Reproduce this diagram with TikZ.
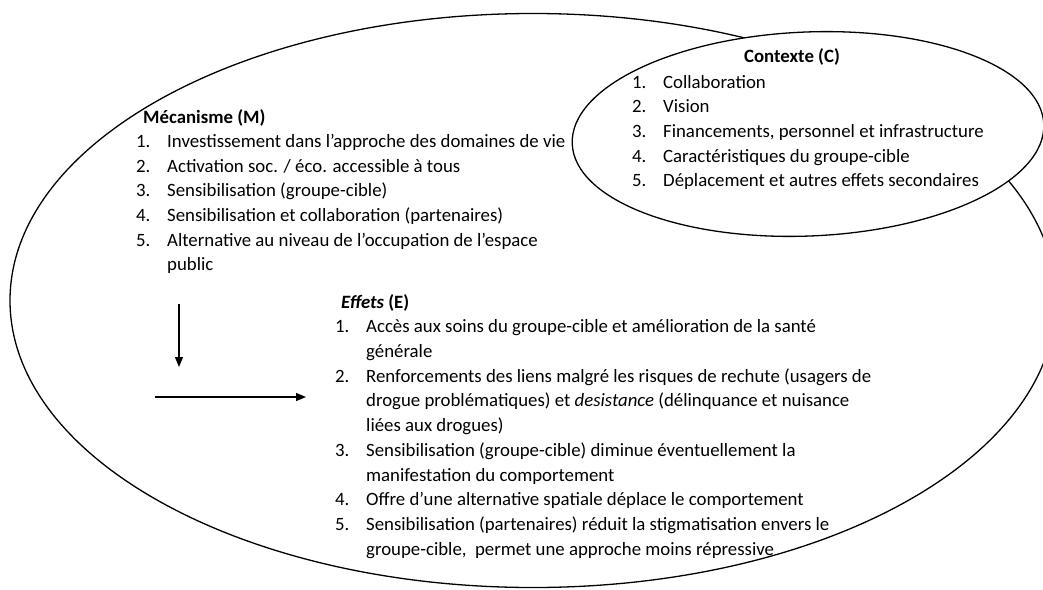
\documentclass[tikz,border=0pt]{standalone}
\usepackage{fontspec}
\setmainfont{Carlito}
\usetikzlibrary{arrows.meta, shapes.geometric}

\newcommand{\itm}[1]{\makebox[31pt][l]{#1}}

\begin{document}
\begin{tikzpicture}[x=1pt, y=-1pt,
    frame/.style={
        ellipse,
        draw=black,
        line width=1.3pt,
        inner sep=0pt
    },
    listtext/.style={
        anchor=north west,
        inner sep=0pt,
        align=left,
        font=\fontsize{18.8}{24.6}\selectfont
    },
    arrow/.style={
        -{Triangle[length=10pt,width=8pt]},
        line width=1.3pt
    }
]
\useasboundingbox (0,0) rectangle (1043,589);

\node[frame, minimum width=1046pt, minimum height=574pt] (whole) at (533,300.5) {};
\node[frame, fill=white, minimum width=472pt, minimum height=204pt, rotate=2.4] (context) at (808,134) {};

\node[listtext] (mech) at (136,109) {
    \hspace*{7pt}\textbf{Mécanisme (M)}\\
    \itm{1.}Investissement dans l’approche des domaines de vie\\
    \itm{2.}Activation soc. / éco. accessible à tous\\
    \itm{3.}Sensibilisation (groupe-cible)\\
    \itm{4.}Sensibilisation et collaboration (partenaires)\\
    \itm{5.}Alternative au niveau de l’occupation de l’espace\\
    \itm{}public
};

\node[listtext, anchor=base] (ctxtitle) at (792,62) {\textbf{Contexte (C)}};
\node[listtext] (ctxlist) at (632,75) {
    \itm{1.}Collaboration\\
    \itm{2.}Vision\\
    \itm{3.}Financements, personnel et infrastructure\\
    \itm{4.}Caractéristiques du groupe-cible\\
    \itm{5.}Déplacement et autres effets secondaires
};

\node[listtext, font=\fontsize{18.8}{24.7}\selectfont] (effects) at (335,294) {
    \hspace*{6pt}\textbf{\textit{Effets} (E)}\\
    \itm{1.}Accès aux soins du groupe-cible et amélioration de la santé\\
    \itm{}générale\\
    \itm{2.}Renforcements des liens malgré les risques de rechute (usagers de\\
    \itm{}drogue problématiques) et \textit{desistance} (délinquance et nuisance\\
    \itm{}liées aux drogues)\\
    \itm{3.}Sensibilisation (groupe-cible) diminue éventuellement la\\
    \itm{}manifestation du comportement\\
    \itm{4.}Offre d’une alternative spatiale déplace le comportement\\
    \itm{5.}Sensibilisation (partenaires) réduit la stigmatisation envers le\\
    \itm{}groupe-cible,\ \ permet une approche moins répressive
};

\coordinate (vtop) at (179,304);
\coordinate (vbot) at (179,367);
\coordinate (hleft) at (155,397);
\coordinate (hright) at (306,397);

\draw[arrow] (vtop) -- (vbot);
\draw[arrow] (hleft) -- (hright);

\end{tikzpicture}
\end{document}
